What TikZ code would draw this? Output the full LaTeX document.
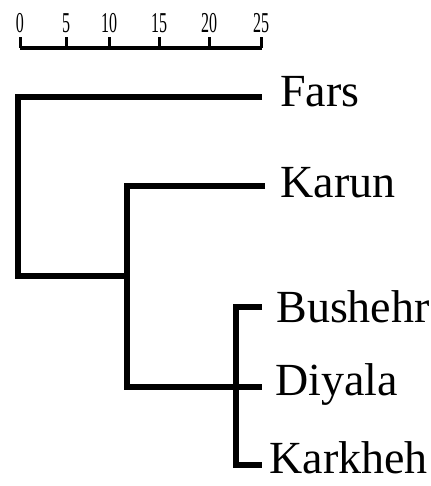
\documentclass[tikz,border=0pt]{standalone}
\usepackage{fontspec}
\setmainfont{Liberation Serif}
\usetikzlibrary{positioning}

\begin{document}
\begin{tikzpicture}[x=0.5pt,y=-0.5pt,
    branch/.style={line width=3pt,black},
    axisline/.style={line width=2pt,black},
    axistick/.style={line width=1.5pt,black},
    leaf/.style={anchor=base west,inner sep=0pt,font=\fontsize{23}{23}\selectfont},
    ticklabel/.style={inner sep=0pt,font=\fontsize{8}{8}\selectfont}]

    \useasboundingbox (0,0) rectangle (431,486);

    % scale bar
    \coordinate (s0) at (20,48);
    \coordinate (s25) at (262,48);
    \draw[axisline] (s0) -- (s25);
    \foreach \x/\v in {20/0,66/5,109/10,159/15,209/20,261/25}{
        \draw[axistick] (\x,48) -- (\x,37);
        \node[ticklabel] (t\v) at (\x,23) {\scalebox{1}[1.8]{\v}};
    }

    % leaves
    \node[leaf] (fars)    at (280,107) {Fars};
    \node[leaf] (karun)   at (280,198) {Karun};
    \node[leaf] (bushehr) at (276,322) {Bushehr};
    \node[leaf] (diyala)  at (275,395) {Diyala};
    \node[leaf] (karkheh) at (269,473) {Karkheh};

    \coordinate (fars-end)    at (262,97);
    \coordinate (karun-end)   at (265,186);
    \coordinate (bushehr-end) at (262,307);
    \coordinate (diyala-end)  at (262,387);
    \coordinate (karkheh-end) at (262,465);

    % joins
    \coordinate (n0) at (18,276);
    \coordinate (n1) at (127,276);
    \coordinate (n2) at (236,387);

    \draw[branch] (fars-end) -| (n0) -- (n1);
    \draw[branch] (karun-end) -| (n1) |- (diyala-end);
    \draw[branch] (bushehr-end) -| (n2) |- (karkheh-end);

\end{tikzpicture}
\end{document}
